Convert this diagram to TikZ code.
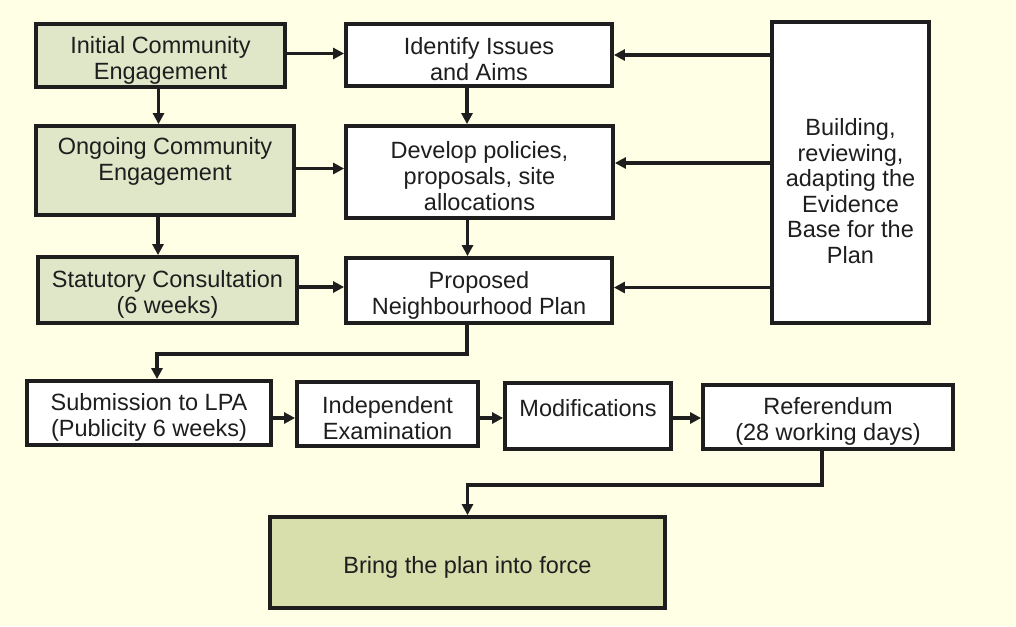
\documentclass[tikz,border=0pt]{standalone}
\usepackage{fontspec}
\setmainfont{Liberation Sans}
\usepackage{xcolor}
\usetikzlibrary{arrows.meta}

\definecolor{paper}{RGB}{255,255,230}
\definecolor{sage}{RGB}{224,230,200}
\definecolor{olive}{RGB}{216,222,172}
\definecolor{ink}{RGB}{30,30,30}

% taller first line, so the text sits a little low in its box
\newcommand{\lift}{\rule{0pt}{26pt}}

\tikzset{
    box/.style={draw=ink, line width=3.8pt, fill=white, align=center,
        inner sep=2pt, text=ink, font=\fontsize{23.5}{26}\selectfont},
    greenbox/.style={box, fill=sage},
    arr/.style={draw=ink, line width=3.4pt, -{Triangle[length=11pt,width=11pt]}},
}

\begin{document}
\begin{tikzpicture}[x=1pt, y=-1pt]
    \fill[paper] (0,0) rectangle (1016,626);

    \node[greenbox, minimum width=249pt, minimum height=63pt] (init) at (160.5,55.5) {\lift Initial Community\\Engagement};
    \node[greenbox, minimum width=258pt, minimum height=89pt] (ongoing) at (165,170.5) {\lift Ongoing Community\\Engagement\\[6pt]\mbox{}};
    \node[greenbox, minimum width=259pt, minimum height=66pt] (statutory) at (167.5,290) {\lift Statutory Consultation\\(6 weeks)};

    \node[box, minimum width=266pt, minimum height=62pt] (identify) at (479,55) {\lift Identify Issues\\and Aims};
    \node[box, minimum width=267pt, minimum height=92pt] (develop) at (479.5,172) {\lift Develop policies,\\proposals, site\\allocations};
    \node[box, minimum width=266pt, minimum height=65pt] (proposed) at (479,290.5) {\lift Proposed\\Neighbourhood Plan};

    \node[box, minimum width=157pt, minimum height=301pt] (evidence) at (850.5,172.5) {};
    \node[align=center, text=ink, font=\fontsize{23.5}{25.6}\selectfont] (evidtext) at (850.5,191)
        {Building,\\reviewing,\\adapting the\\Evidence\\Base for the\\Plan};

    \node[box, minimum width=244pt, minimum height=64pt] (submission) at (149,413) {\lift Submission to LPA\\(Publicity 6 weeks)};
    \node[box, minimum width=181pt, minimum height=64pt] (independent) at (387.5,414) {\lift Independent\\Examination};
    \node[box, minimum width=166pt, minimum height=66pt] (modifications) at (588,416) {\lift Modifications\\\mbox{}};
    \node[box, minimum width=250pt, minimum height=64pt] (referendum) at (828,417) {\lift Referendum\\(28 working days)};

    \node[box, fill=olive, minimum width=395pt, minimum height=91pt] (bring) at (467.5,562.5) {\lift Bring the plan into force};

    % left column and across
    \draw[arr] ([xshift=-2pt]init.south) -- ([xshift=-2pt]init.south |- ongoing.north);
    \draw[arr] ([xshift=-7pt]ongoing.south) -- ([xshift=-7pt]ongoing.south |- statutory.north);
    \draw[arr] ([yshift=2pt]init.east) -- ([yshift=2pt]init.east -| identify.west);
    \draw[arr] ([yshift=2pt]ongoing.east) -- ([yshift=2pt]ongoing.east -| develop.west);
    \draw[arr] ([yshift=3pt]statutory.east) -- ([yshift=3pt]statutory.east -| proposed.west);

    % middle column
    \draw[arr] ([xshift=-12pt]identify.south) -- ([xshift=-12pt]identify.south |- develop.north);
    \draw[arr] ([xshift=-12pt]develop.south) -- ([xshift=-12pt]develop.south |- proposed.north);

    % evidence base
    \draw[arr] (evidence.west |- identify.east) -- (identify.east);
    \draw[arr] ([yshift=9pt]evidence.west |- develop.east) -- ([yshift=9pt]develop.east);
    \draw[arr] ([yshift=3pt]evidence.west |- proposed.east) -- ([yshift=3pt]proposed.east);

    % bottom row
    \draw[arr] ([xshift=-12pt]proposed.south) -- ++(0,29) -| ([xshift=8pt]submission.north);
    \draw[arr] ([yshift=-5pt]submission.east) -- ([yshift=-5pt]submission.east -| independent.west);
    \draw[arr] ([yshift=-4pt]independent.east) -- ([yshift=-4pt]independent.east -| modifications.west);
    \draw[arr] ([yshift=-2pt]modifications.east) -- ([yshift=-2pt]modifications.east -| referendum.west);
    \draw[arr] ([xshift=-6pt]referendum.south) -- ++(0,34) -| (bring.north);
\end{tikzpicture}
\end{document}
